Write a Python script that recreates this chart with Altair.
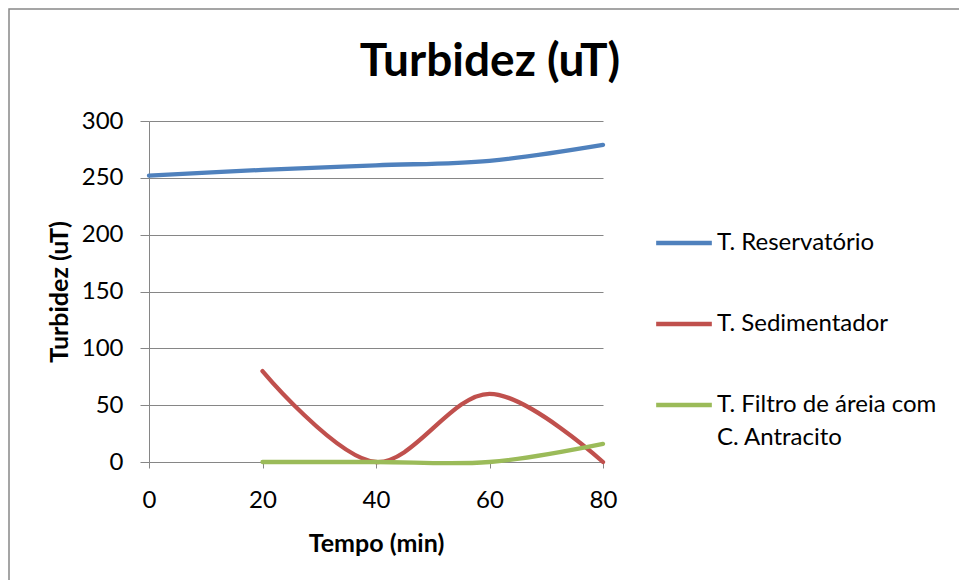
import altair as alt
import pandas as pd

# Sampling times (min)
tempo = [0, 20, 40, 60, 80]

# Turbidity readings (uT) per sampling point; None = not measured
reservatorio = [252, 257, 261, 265, 279]
sedimentador = [None, 80, 0, 60, 0]
filtro = [None, 0, 0, 0, 16]

series_names = ["T. Reservatório", "T. Sedimentador", "T. Filtro de áreia com C. Antracito"]
series_colors = ["#4F81BD", "#C0504D", "#9BBB59"]

rows = []
for name, values in zip(series_names, [reservatorio, sedimentador, filtro]):
    for t, v in zip(tempo, values):
        if v is not None:
            rows.append({"Tempo": t, "Turbidez": v, "Serie": name})
df = pd.DataFrame(rows)

FONT = "Lato"
GRID = "#868686"

lines = alt.Chart(df).mark_line(
    interpolate="catmull-rom", strokeWidth=4.3, strokeCap="round"
).encode(
    x=alt.X(
        "Tempo:Q",
        scale=alt.Scale(domain=[0, 80], nice=False),
        axis=alt.Axis(
            title="Tempo (min)",
            values=tempo,
            grid=False,
            tickSize=6,
            tickColor=GRID,
            domainColor=GRID,
            labelFlush=False,
            labelPadding=20,
            labelFontSize=24,
            labelColor="black",
            titleFontSize=25,
            titleFontWeight="bold",
            titlePadding=19,
            titleColor="black",
        ),
    ),
    y=alt.Y(
        "Turbidez:Q",
        scale=alt.Scale(domain=[0, 300], nice=False),
        axis=alt.Axis(
            title="Turbidez (uT)",
            values=[0, 50, 100, 150, 200, 250, 300],
            grid=True,
            gridColor=GRID,
            tickSize=9,
            tickColor=GRID,
            domainColor=GRID,
            labelFlush=False,
            labelPadding=17,
            labelFontSize=24,
            labelColor="black",
            titleFontSize=25,
            titleFontWeight="bold",
            titlePadding=9,
            titleColor="black",
        ),
    ),
    color=alt.Color(
        "Serie:N",
        scale=alt.Scale(domain=series_names, range=series_colors),
        legend=alt.Legend(
            title=None,
            orient="none",
            legendX=505,
            legendY=92,
            symbolType="stroke",
            symbolSize=3100,
            symbolStrokeWidth=4.3,
            labelFontSize=24,
            labelColor="black",
            labelOffset=3,
            rowPadding=39,
            labelLimit=300,
            labelExpr="datum.label == 'T. Filtro de áreia com C. Antracito' ? ['T. Filtro de áreia com', 'C. Antracito'] : datum.label",
        ),
    ),
)

# Outer frame of the chart
frame = alt.Chart(pd.DataFrame({"k": [0]})).mark_rect(
    fill=None, stroke="#888888", strokeWidth=1.5
).encode(
    x=alt.value(-140), x2=alt.value(830), y=alt.value(-112), y2=alt.value(480)
)

chart = alt.layer(frame, lines).properties(
    width=454,
    height=341,
    autosize=alt.AutoSizeParams(type="none"),
    padding={"left": 149, "top": 121, "right": 356, "bottom": 118},
    title=alt.TitleParams(
        "Turbidez (uT)",
        fontSize=46,
        fontWeight="bold",
        font=FONT,
        color="black",
        anchor="middle",
        baseline="alphabetic",
        dx=114,
        dy=114,
        offset=0,
    ),
).configure(
    font=FONT,
    style={"guide-label": {"lineHeight": 33}},
).configure_view(
    stroke=None,
)

chart.save("out.html", embed_options={"renderer": "svg", "actions": False})
